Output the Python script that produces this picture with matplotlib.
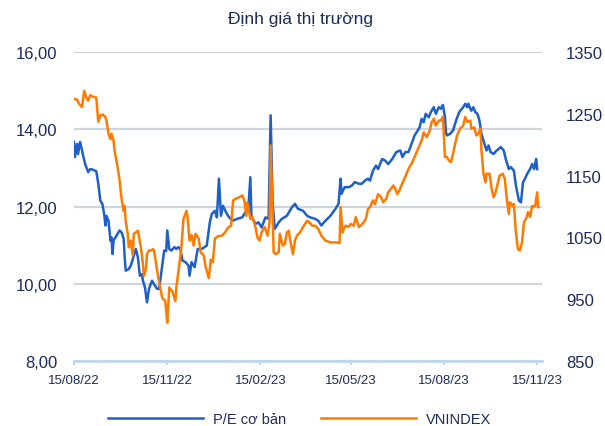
import matplotlib
matplotlib.use('Agg')
import matplotlib.pyplot as plt
from matplotlib.ticker import FuncFormatter
from matplotlib.lines import Line2D
import pandas as pd

plt.rcParams['font.family'] = ['Liberation Sans', 'DejaVu Sans']

# DATA: days counted from 15/08/2022
start_date = pd.Timestamp('2022-08-15')

pe_days = [0, 1, 3, 4, 6, 8, 9, 11, 14, 16,
           19, 22, 24, 26, 28, 30, 31, 32, 34, 36,
           37, 38, 39, 42, 45, 47, 49, 50, 51, 54,
           56, 59, 61, 63, 65, 67, 68, 70, 72, 74,
           77, 79, 82, 84, 87, 89, 91, 92, 94, 96,
           99, 101, 103, 105, 107, 110, 113, 114, 116, 119,
           122, 126, 131, 134, 136, 139, 141, 143, 145, 147,
           150, 152, 156, 161, 166, 169, 172, 174, 175, 179,
           182, 185, 189, 192, 194, 196, 198, 202, 205, 210,
           215, 218, 221, 226, 230, 233, 238, 241, 244, 248,
           253, 258, 261, 263, 264, 267, 271, 274, 277, 281,
           284, 287, 290, 292, 295, 298, 300, 304, 307, 310,
           314, 318, 322, 324, 327, 330, 333, 336, 338, 341,
           343, 345, 347, 350, 352, 355, 357, 360, 362, 364,
           366, 367, 368, 371, 374, 377, 380, 384, 386, 388,
           389, 392, 394, 396, 398, 400, 402, 405, 407, 409,
           411, 414, 417, 419, 421, 424, 426, 429, 431, 434,
           436, 439, 441, 443, 445, 447, 450, 452, 454, 456,
           457]
pe_values = [13.67, 13.28, 13.62, 13.36, 13.67, 13.45, 13.32, 13.10, 12.89, 12.97,
             12.95, 12.91, 12.59, 12.15, 12.07, 11.76, 11.51, 11.76, 11.63, 11.12,
             11.20, 10.77, 11.12, 11.25, 11.38, 11.33, 11.16, 10.69, 10.34, 10.38,
             10.47, 10.73, 10.90, 10.69, 10.21, 10.25, 10.08, 9.91, 9.52, 9.87,
             10.08, 9.99, 9.87, 9.87, 10.47, 10.86, 10.85, 11.38, 10.90, 10.86,
             10.95, 10.90, 10.95, 10.90, 10.60, 10.56, 10.47, 10.21, 10.56, 10.43,
             10.90, 10.90, 10.99, 11.59, 11.81, 11.89, 11.72, 12.72, 11.76, 12.02,
             11.85, 11.76, 11.63, 11.68, 11.72, 11.85, 11.94, 12.76, 11.76, 11.55,
             11.59, 11.46, 11.72, 11.68, 14.36, 12.10, 11.42, 11.59, 11.68, 11.76,
             11.98, 12.07, 11.94, 11.89, 11.76, 11.72, 11.68, 11.63, 11.51, 11.63,
             11.76, 11.94, 12.07, 12.72, 12.33, 12.50, 12.50, 12.54, 12.63, 12.59,
             12.59, 12.67, 12.72, 12.67, 12.93, 13.06, 12.97, 13.23, 13.19, 13.10,
             13.23, 13.41, 13.45, 13.28, 13.41, 13.41, 13.62, 13.84, 13.92, 14.05,
             14.27, 14.18, 14.40, 14.31, 14.44, 14.57, 14.40, 14.57, 14.53, 14.63,
             14.31, 13.92, 13.84, 13.88, 13.97, 14.23, 14.44, 14.57, 14.66, 14.57,
             14.66, 14.48, 14.57, 14.44, 14.40, 14.23, 13.88, 13.62, 13.45, 13.58,
             13.41, 13.36, 13.45, 13.49, 13.54, 13.45, 13.23, 12.97, 13.02, 12.93,
             12.54, 12.15, 12.11, 12.63, 12.72, 12.84, 12.97, 13.10, 12.97, 13.23,
             12.97]

vn_days = [0, 3, 5, 8, 10, 12, 14, 16, 18, 22,
           24, 26, 28, 31, 32, 34, 36, 37, 39, 40,
           43, 45, 46, 47, 49, 50, 51, 53, 54, 56,
           58, 59, 61, 63, 64, 66, 68, 69, 71, 72,
           74, 76, 78, 79, 81, 83, 85, 87, 88, 90,
           91, 92, 94, 95, 97, 100, 101, 104, 106, 108,
           111, 112, 114, 116, 118, 120, 123, 125, 128, 130,
           133, 135, 137, 139, 142, 146, 149, 152, 155, 157,
           160, 163, 166, 168, 170, 171, 174, 176, 179, 181,
           183, 185, 188, 190, 191, 193, 194, 197, 199, 202,
           203, 206, 208, 210, 212, 213, 216, 218, 220, 223,
           226, 230, 232, 235, 238, 241, 244, 248, 253, 258,
           262, 263, 265, 266, 268, 271, 273, 276, 278, 281,
           283, 286, 288, 290, 292, 295, 297, 300, 303, 305,
           308, 310, 313, 315, 317, 319, 321, 323, 326, 328,
           331, 333, 336, 338, 341, 343, 345, 348, 351, 353,
           355, 357, 360, 362, 364, 366, 368, 370, 372, 374,
           376, 378, 381, 384, 386, 388, 391, 392, 395, 397,
           399, 401, 402, 404, 406, 407, 410, 412, 414, 416,
           418, 420, 423, 425, 427, 429, 430, 433, 434, 436,
           438, 440, 442, 444, 446, 448, 450, 452, 453, 455,
           457, 458]
vn_values = [1274, 1273, 1266, 1261, 1287, 1277, 1271, 1280, 1278, 1276,
             1237, 1247, 1249, 1245, 1239, 1218, 1209, 1218, 1207, 1191,
             1164, 1142, 1126, 1112, 1093, 1101, 1077, 1056, 1034, 1045,
             1021, 1056, 1058, 1061, 1053, 1034, 1007, 988, 999, 1023,
             1029, 1029, 1031, 1029, 1007, 986, 969, 953, 950, 948,
             931, 912, 969, 967, 963, 947, 970, 1007, 1035, 1080,
             1093, 1083, 1045, 1054, 1037, 1056, 1048, 1026, 1021, 1002,
             984, 1014, 1010, 1048, 1052, 1053, 1058, 1066, 1069, 1110,
             1113, 1115, 1118, 1110, 1085, 1107, 1080, 1083, 1067, 1050,
             1045, 1058, 1067, 1058, 1053, 1075, 1199, 1026, 1023, 1026,
             1056, 1037, 1039, 1058, 1061, 1048, 1023, 1045, 1053, 1058,
             1067, 1077, 1075, 1069, 1069, 1064, 1053, 1045, 1042, 1042,
             1041, 1099, 1058, 1064, 1069, 1067, 1072, 1069, 1083, 1067,
             1069, 1075, 1080, 1096, 1099, 1110, 1104, 1120, 1115, 1107,
             1112, 1123, 1129, 1134, 1129, 1120, 1126, 1134, 1145, 1153,
             1164, 1169, 1180, 1188, 1199, 1207, 1220, 1212, 1223, 1237,
             1242, 1231, 1239, 1239, 1245, 1180, 1180, 1174, 1172, 1185,
             1201, 1215, 1226, 1231, 1245, 1237, 1239, 1226, 1228, 1215,
             1218, 1226, 1191, 1153, 1139, 1153, 1153, 1129, 1115, 1123,
             1137, 1150, 1153, 1145, 1112, 1088, 1107, 1101, 1104, 1058,
             1031, 1029, 1042, 1075, 1080, 1091, 1083, 1101, 1099, 1101,
             1123, 1099]

tick_dates = ['2022-08-15', '2022-11-15', '2023-02-15', '2023-05-15', '2023-08-15', '2023-11-15']
pe_ticks = [8, 10, 12, 14, 16]
vn_ticks = [850, 950, 1050, 1150, 1250, 1350]

title = 'Định giá thị trường'
pe_label = 'P/E cơ bản'
vn_label = 'VNINDEX'

# colours
blue = '#1f5fc8'
orange = '#ff7a00'
navy = '#1c2b5a'
grid_col = '#cfd5df'
axis_col = '#bdd7ee'

pe_dates = start_date + pd.to_timedelta(pe_days, unit='D')
vn_dates = start_date + pd.to_timedelta(vn_days, unit='D')

fig = plt.figure(figsize=(6.05, 4.27), dpi=100)
ax = fig.add_axes([0.1223, 0.152, 0.774, 0.724])
ax2 = ax.twinx()

ax.plot(pe_dates, pe_values, color=blue, lw=1.8, zorder=3)
ax2.plot(vn_dates, vn_values, color=orange, lw=1.8, zorder=3)

ax.set_ylim(8, 16)
ax.set_yticks(pe_ticks)
ax.yaxis.set_major_formatter(FuncFormatter(lambda v, p: f'{v:.2f}'.replace('.', ',')))
ax2.set_ylim(850, 1350)
ax2.set_yticks(vn_ticks)

ax.set_xlim(start_date, start_date + pd.Timedelta(days=462))
ax.set_xticks(pd.to_datetime(tick_dates))
ax.set_xticklabels([pd.Timestamp(d).strftime('%d/%m/%y') for d in tick_dates])

ax.grid(axis='y', color=grid_col, lw=1.6)
ax.set_axisbelow(True)

for a in (ax, ax2):
    for s in ('top', 'left', 'right'):
        a.spines[s].set_visible(False)
ax2.spines['bottom'].set_visible(False)
ax.spines['bottom'].set_color(axis_col)
ax.spines['bottom'].set_linewidth(2)
ax.spines['bottom'].set_zorder(4)

ax.tick_params(axis='y', length=0, pad=12, labelsize=12, labelcolor=navy)
ax2.tick_params(axis='y', length=0, pad=17, labelsize=12, labelcolor=navy)
ax.tick_params(axis='x', length=3, width=1.5, color=axis_col, pad=6, labelsize=9.5, labelcolor=navy)

fig.text(0.497, 0.955, title, ha='center', va='center', fontsize=12.5, color=navy)

handles = [Line2D([], [], color=blue, lw=1.8), Line2D([], [], color=orange, lw=1.8)]
fig.legend(handles, [pe_label, vn_label], loc='lower center', bbox_to_anchor=(0.495, -0.03),
           ncol=2, frameon=False, handlelength=6.5, handletextpad=0.7, columnspacing=2.4,
           fontsize=10.5, labelcolor=navy)

fig.savefig('out.png', dpi=100)
